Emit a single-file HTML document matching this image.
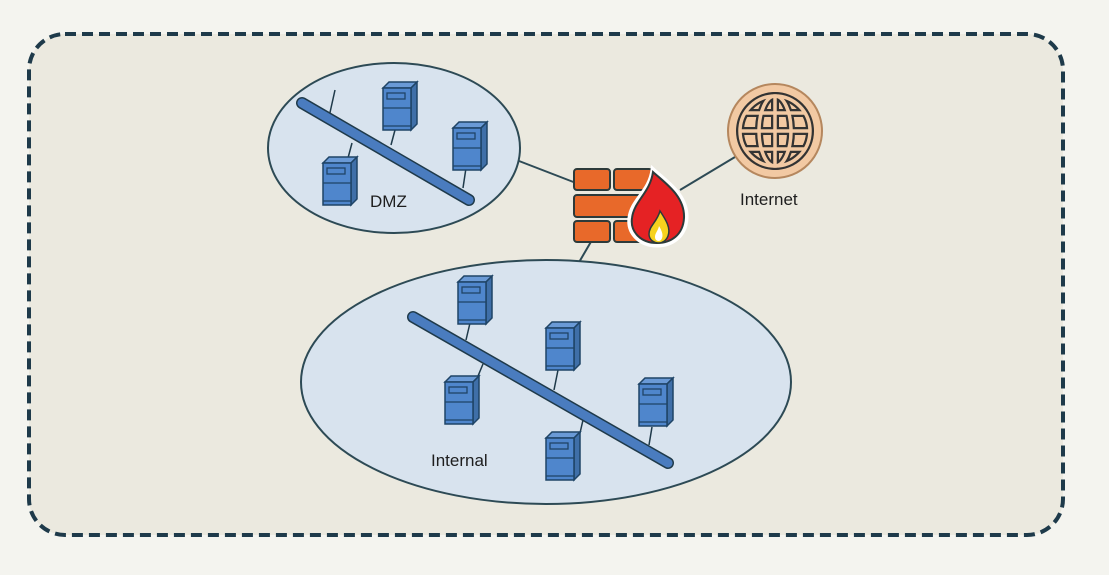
<!DOCTYPE html>
<html><head><meta charset="utf-8"><style>
html,body{margin:0;padding:0;background:#f4f4ef;}
svg{display:block}
text{font-family:"Liberation Sans",sans-serif;fill:#1e1e1e}
</style></head><body>
<svg width="1109" height="575" viewBox="0 0 1109 575" xmlns="http://www.w3.org/2000/svg">
<defs>
<g id="srv">
  <polygon points="0,6 6,0 34,0 28,6" fill="#6a9ad6" stroke="#1f4466" stroke-width="1.5"/>
  <polygon points="28,6 34,0 34,42 28,48" fill="#3f6fa8" stroke="#1f4466" stroke-width="1.5"/>
  <rect x="0" y="6" width="28" height="42" fill="#4f86cc" stroke="#1f4466" stroke-width="1.5"/>
  <rect x="4" y="11" width="18" height="6" fill="#4f86cc" stroke="#1f4466" stroke-width="1.3"/>
  <line x1="0" y1="26" x2="28" y2="26" stroke="#1f4466" stroke-width="1.3"/>
  <line x1="0" y1="44" x2="28" y2="44" stroke="#1f4466" stroke-width="1.3"/>
</g>
</defs>
<rect x="0" y="0" width="1109" height="575" fill="#f4f4ef"/>
<rect x="29" y="34" width="1034" height="501" rx="36" fill="#ebe9df" stroke="#1e3a4a" stroke-width="4" stroke-dasharray="11 6"/>

<line x1="519" y1="161" x2="576" y2="183" stroke="#2d4a55" stroke-width="2"/>
<line x1="680" y1="190" x2="735" y2="157" stroke="#2d4a55" stroke-width="2"/>
<line x1="592" y1="240" x2="578" y2="264" stroke="#2d4a55" stroke-width="2"/>

<ellipse cx="394" cy="148" rx="126" ry="85" fill="#d8e3ee" stroke="#2d4a55" stroke-width="2"/>
<line x1="335" y1="90" x2="329" y2="117" stroke="#1f3a4a" stroke-width="1.5"/>
<line x1="352" y1="143" x2="348" y2="158" stroke="#1f3a4a" stroke-width="1.5"/>
<line x1="395" y1="130" x2="391" y2="145" stroke="#1f3a4a" stroke-width="1.5"/>
<line x1="466" y1="168" x2="463" y2="188" stroke="#1f3a4a" stroke-width="1.5"/>
<line x1="302" y1="103" x2="469" y2="200" stroke="#1f3a4a" stroke-width="12" stroke-linecap="round"/>
<line x1="302" y1="103" x2="469" y2="200" stroke="#4a7cbf" stroke-width="9" stroke-linecap="round"/>
<use href="#srv" x="323" y="157"/>
<use href="#srv" x="383" y="82"/>
<use href="#srv" x="453" y="122"/>
<text x="370" y="207" font-size="17">DMZ</text>

<ellipse cx="546" cy="382" rx="245" ry="122" fill="#d8e3ee" stroke="#2d4a55" stroke-width="2"/>
<line x1="470" y1="323" x2="466" y2="340" stroke="#1f3a4a" stroke-width="1.5"/>
<line x1="483" y1="364" x2="478" y2="376" stroke="#1f3a4a" stroke-width="1.5"/>
<line x1="558" y1="370" x2="554" y2="390" stroke="#1f3a4a" stroke-width="1.5"/>
<line x1="583" y1="420" x2="580" y2="433" stroke="#1f3a4a" stroke-width="1.5"/>
<line x1="652" y1="427" x2="649" y2="445" stroke="#1f3a4a" stroke-width="1.5"/>
<line x1="413" y1="317" x2="668" y2="463" stroke="#1f3a4a" stroke-width="12" stroke-linecap="round"/>
<line x1="413" y1="317" x2="668" y2="463" stroke="#4a7cbf" stroke-width="9" stroke-linecap="round"/>
<use href="#srv" x="458" y="276"/>
<use href="#srv" x="546" y="322"/>
<use href="#srv" x="445" y="376"/>
<use href="#srv" x="639" y="378"/>
<use href="#srv" x="546" y="432"/>
<text x="431" y="466" font-size="17">Internal</text>

<g fill="#e8692a" stroke="#2d3a3a" stroke-width="2">
<rect x="574" y="169" width="36" height="21" rx="3"/>
<rect x="614" y="169" width="38" height="21" rx="3"/>
<rect x="574" y="195" width="68" height="22" rx="3"/>
<rect x="574" y="221" width="36" height="21" rx="3"/>
<rect x="614" y="221" width="32" height="21" rx="3"/>
</g>
<path d="M653,170 C666,182 687,195 686,218 C685,236 672,245 657,245 C640,245 628,233 630,218 C632,200 650,192 653,170 Z" fill="#fff" stroke="#fff" stroke-width="5"/>
<path d="M653,172 C665,183 685,196 684,218 C683,235 671,243 657,243 C641,243 630,232 632,218 C634,201 650,193 653,172 Z" fill="#e52224" stroke="#2d3a3a" stroke-width="2"/>
<path d="M660,211 C666,220 671,228 668,236 C666,241 662,243 659,243 C654,243 649,240 649,234 C649,226 657,222 660,211 Z" fill="#f6d21e" stroke="#2d3a3a" stroke-width="1.5"/>
<path d="M659,226 C662,231 664,236 661,240 C659,242 655,241 655,237 C655,233 658,231 659,226 Z" fill="#fff"/>

<circle cx="775" cy="131" r="47" fill="#f2c9a3" stroke="#b5875e" stroke-width="2"/>
<g fill="none" stroke="#333" stroke-width="8">
<circle cx="775" cy="131" r="35"/>
<ellipse cx="775" cy="131" rx="16" ry="35"/>
<line x1="775" y1="96" x2="775" y2="166"/>
<line x1="740" y1="131" x2="810" y2="131"/>
<line x1="745" y1="113" x2="805" y2="113"/>
<line x1="745" y1="149" x2="805" y2="149"/>
</g>
<g fill="none" stroke="#f2c9a3" stroke-width="3.5">
<circle cx="775" cy="131" r="35"/>
<ellipse cx="775" cy="131" rx="16" ry="35"/>
<line x1="775" y1="96" x2="775" y2="166"/>
<line x1="740" y1="131" x2="810" y2="131"/>
<line x1="745" y1="113" x2="805" y2="113"/>
<line x1="745" y1="149" x2="805" y2="149"/>
</g>
<text x="740" y="205" font-size="17">Internet</text>
</svg>
</body></html>
